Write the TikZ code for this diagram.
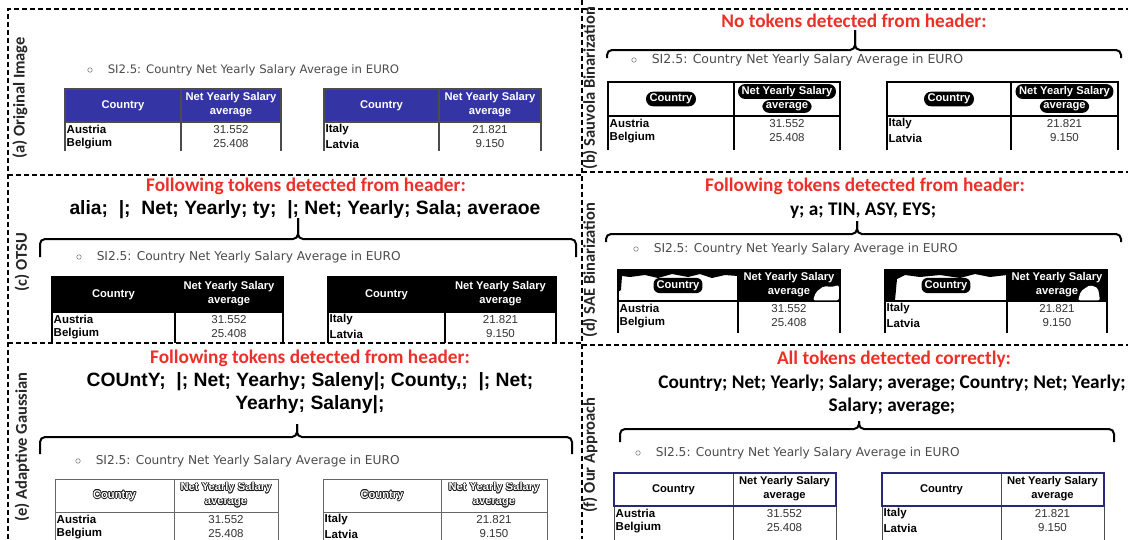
\documentclass[tikz,border=0pt]{standalone}
\usepackage{fontspec}
\setmainfont{Liberation Sans}
\newfontfamily\calfont{Carlito}
\newfontfamily\verfont{DejaVu Sans}
\usetikzlibrary{positioning}

\definecolor{tokred}{RGB}{236,48,40}
\definecolor{hdrblue}{RGB}{52,52,165}
\definecolor{capgray}{RGB}{75,75,75}

% text with a thin ring of copies behind it
\newsavebox{\halobox}
\newcommand{\halo}[3]{{\setbox\halobox\hbox{#3}%
  \foreach \a in {0,45,...,315}{%
    \pgfmathsetlengthmacro{\hx}{#1*cos(\a)}%
    \pgfmathsetlengthmacro{\hy}{#1*sin(\a)}%
    \rlap{\color{#2}\kern\hx\raise\hy\copy\halobox}}%
  \copy\halobox}}

% header text, one per panel
\newcommand{\hfmta}[1]{#1}
\newcommand{\hfmtb}[1]{#1}
\newcommand{\hfmtc}[1]{#1}
\newcommand{\hfmtd}[1]{#1}
\newcommand{\hfmte}[1]{\halo{0.75pt}{black!90}{#1}}
\newcommand{\hfmtf}[1]{#1}

% #1 name, #2 x left, #3 x divider, #4 x right, #5 y top, #6 y header, #7 panel, #8 rows, #9 y bottom
\newcommand{\saltable}[9]{%
  \path[hdrl#7] (#2,#5) rectangle (#3,#6);
  \path[hdrr#7] (#3,#5) rectangle (#4,#6);
  \draw[frame#7] (#2,#9) -- (#2,#5) -- (#4,#5) -- (#4,#9);
  \draw[frame#7] (#3,#5) -- (#3,#9);
  \draw[frame#7] (#2,#6) -- (#4,#6);
  \path[hbox#7] (#2,#5) rectangle (#4,#6);
  \node[hdrtext, txt#7] (#1c) at ({(#2+#3)/2},{(#5+#6)/2}) {\csname hfmt#7\endcsname{Country}};
  \node[hdrtext, txt#7] (#1n) at ({(#3+#4)/2},{(#5+#6)/2-7.5}) {\csname hfmt#7\endcsname{Net Yearly Salary}};
  \node[hdrtext, txt#7] (#1a) at ({(#3+#4)/2},{(#5+#6)/2+7.5}) {\csname hfmt#7\endcsname{average}};
  \foreach \nm/\vl [count=\i] in {#8}{%
    \node[rowname] (#1r\i) at ({#2+1.5},{#6+7.5+(\i-1)*14.5}) {\nm};
    \node[rowval] (#1v\i) at ({(#3+#4)/2},{#6+7.5+(\i-1)*14.5}) {\vl};
  }%
}

% #1 x left, #2 x right, #3 x tip, #4 y bar, #5 y ends, #6 y tip
\newcommand{\tokbrace}[6]{%
  \draw[brace] (#1,#5) -- (#1,#4) -- (#3,#4) -- (#3,#6);
  \draw[brace] (#2,#5) -- (#2,#4) -- (#3,#4) -- (#3,#6);
}

\begin{document}
\begin{tikzpicture}[x=1pt,y=-1pt,
    sep/.style={line width=1.3pt, dash pattern=on 5pt off 3pt},
    plabel/.style={rotate=90, inner sep=0pt, text=black!85, font=\calfont\bfseries\fontsize{16.5}{18}\selectfont},
    redhead/.style={inner sep=0pt, text=tokred, font=\calfont\bfseries\fontsize{19.3}{22}\selectfont},
    tokline/.style={inner sep=0pt, align=center, font=\bfseries\fontsize{19.3}{23}\selectfont},
    tokcal/.style={inner sep=0pt, align=center, font=\calfont\bfseries\fontsize{19.3}{23.5}\selectfont},
    brace/.style={line width=2pt, rounded corners=5pt},
    bullet/.style={circle, draw=black!50, line width=0.6pt, inner sep=0pt, minimum size=4.5pt},
    subtitle/.style={anchor=west, inner sep=0pt, text=capgray, font=\verfont\fontsize{#1}{14}\selectfont},
    subtitle/.default=12.2,
    hdrtext/.style={inner sep=0pt, font=\bfseries\fontsize{11.2}{13}\selectfont},
    rowname/.style={anchor=west, inner sep=0pt, font=\bfseries\fontsize{11.5}{13}\selectfont},
    rowval/.style={inner sep=0pt, text=black!80, font=\fontsize{11.5}{13}\selectfont},
    framea/.style={draw=black!70, line width=1.2pt},
    frameb/.style={draw=black, line width=1.4pt},
    framec/.style={draw=black, line width=1.2pt},
    framed/.style={draw=black, line width=1.2pt},
    framee/.style={draw=black!60, line width=1pt},
    framef/.style={draw=black!70, line width=1pt},
    hdrla/.style={fill=hdrblue}, hdrra/.style={fill=hdrblue},
    hdrlb/.style={}, hdrrb/.style={},
    hdrlc/.style={fill=black}, hdrrc/.style={fill=black},
    hdrld/.style={}, hdrrd/.style={fill=black},
    hdrle/.style={}, hdrre/.style={},
    hdrlf/.style={}, hdrrf/.style={},
    hboxa/.style={}, hboxc/.style={}, hboxd/.style={}, hboxe/.style={},
    hboxb/.style={draw=black, line width=2.4pt},
    hboxf/.style={draw=hdrblue!75!black, line width=1.8pt},
    txta/.style={text=white},
    txtb/.style={text=white, fill=black, rounded corners=7pt, inner xsep=3.5pt, inner ysep=2.2pt},
    txtc/.style={text=white},
    txtd/.style={text=white, fill=black, rounded corners=6pt, inner xsep=3pt, inner ysep=2.5pt},
    txte/.style={text=white},
    txtf/.style={text=black}]
\useasboundingbox (0,0) rectangle (1128,539);

% panel borders
\draw[sep] (8,539) -- (8,9) -- (1128,9);
\draw[sep] (582,0) -- (582,539);
\draw[sep] (8,175) -- (582,175);
\draw[sep] (8,343) -- (582,343);
\draw[sep] (582,172) -- (1128,172);
\draw[sep] (582,345) -- (1128,345);

% (a)
\node[plabel] (labA) at (20,98) {(a) Original Image};
\node[bullet] (abul) at (90,70) {};
\node[subtitle=11.7, right=15pt of abul] (atitle) {SI2.5: Country Net Yearly Salary Average in EURO};
\saltable{at1}{65}{181}{281}{89}{122}{a}{Austria/31.552,Belgium/25.408}{151}
\saltable{at2}{324}{439}{541}{89}{122}{a}{Italy/21.821,Latvia/9.150}{151}

% (b)
\node[plabel] (labB) at (590,88) {(b) Sauvola Binarization};
\node[redhead] (bhead) at (854,21) {No tokens detected from header:};
\tokbrace{607}{1121}{855}{50}{58}{30}
\node[bullet] (bbul) at (634,60) {};
\node[subtitle=12.5, right=15pt of bbul] (btitle) {SI2.5: Country Net Yearly Salary Average in EURO};
\saltable{bt1}{608}{734}{840}{82}{116}{b}{Austria/31.552,Belgium/25.408}{150}
\saltable{bt2}{887}{1011}{1118}{82}{116}{b}{Italy/21.821,Latvia/9.150}{150}

% (c)
\node[plabel] (labC) at (22,262) {(c) OTSU};
\node[redhead] (chead) at (306,186) {Following tokens detected from header:};
\node[tokline] (ctok) at (305,210) {alia;\ \ |;\ \ Net; Yearly; ty;\ \ |; Net; Yearly; Sala; averaoe};
\tokbrace{40}{576}{298}{239}{257}{218}
\node[bullet] (cbul) at (79,257) {};
\node[subtitle, right=15pt of cbul] (ctitle) {SI2.5: Country Net Yearly Salary Average in EURO};
\saltable{ct1}{52}{175}{283}{277}{312}{c}{Austria/31.552,Belgium/25.408}{343}
\saltable{ct2}{328}{445}{556}{277}{312}{c}{Italy/21.821,Latvia/9.150}{343}

% (d)
\node[plabel] (labD) at (590,270) {(d) SAE Binarization};
\node[redhead] (dhead) at (865,186) {Following tokens detected from header:};
\node[tokcal] (dtok) at (863,211) {y; a; TIN, ASY, EYS;};
\tokbrace{606}{1121}{857}{234}{242}{221}
\node[bullet] (dbul) at (636,249) {};
\node[subtitle, right=15pt of dbul] (dtitle) {SI2.5: Country Net Yearly Salary Average in EURO};
\saltable{dt1}{618}{738}{840}{270}{301}{d}{Austria/31.552,Belgium/25.408}{333}
\saltable{dt2}{885}{1007}{1107}{270}{301}{d}{Italy/21.821,Latvia/9.150}{333}
% what the binarization left of the header
\fill[black] (618,270) -- (738,270) -- (738,276) -- (725,275) -- (712,278) -- (700,274) -- (688,277) -- (672,274) -- (658,278) -- (645,275) -- (630,277) -- (622,276) -- (621,290) -- (618,292) -- cycle;
\fill[white, rounded corners=2pt] (813,300.3) -- (816,292) -- (824,286) -- (832,287) -- (838.8,285) -- (838.8,300.3) -- cycle;
\fill[black] (885,270) -- (1007,270) -- (1007,275) -- (990,277) -- (975,274) -- (960,278) -- (940,275) -- (920,277) -- (905,275) -- (897,279) -- (895,300.5) -- (885,300.5) -- cycle;
\fill[white, rounded corners=2pt] (1078,300.3) -- (1081,291) -- (1090,285) -- (1098,288) -- (1100,300.3) -- cycle;

% (e)
\node[plabel] (labE) at (22,447) {(e) Adaptive Gaussian};
\node[redhead] (ehead) at (310,358) {Following tokens detected from header:};
\node[tokline] (etok) at (310,393) {COUntY;\ \ |; Net; Yearhy; Saleny|; County,;\ \ |; Net;\\Yearhy; Salany|;};
\tokbrace{40}{572}{297}{437}{454}{424}
\node[bullet] (ebul) at (78,461) {};
\node[subtitle, right=15pt of ebul] (etitle) {SI2.5: Country Net Yearly Salary Average in EURO};
\saltable{et1}{55}{174}{278}{479}{512}{e}{Austria/31.552,Belgium/25.408}{545}
\saltable{et2}{323}{441}{547}{479}{512}{e}{Italy/21.821,Latvia/9.150}{545}

% (f)
\node[plabel] (labF) at (590,455) {(f) Our Approach};
\node[redhead] (fhead) at (894,359) {All tokens detected correctly:};
\node[tokcal] (ftok) at (892,395) {Country; Net; Yearly; Salary; average; Country; Net; Yearly;\\Salary; average;};
\tokbrace{620}{1114}{859}{429}{442}{421}
\node[bullet] (fbul) at (638,453) {};
\node[subtitle, right=15pt of fbul] (ftitle) {SI2.5: Country Net Yearly Salary Average in EURO};
\saltable{ft1}{614}{733}{836}{473}{506}{f}{Austria/31.552,Belgium/25.408}{540}
\saltable{ft2}{882}{1001}{1104}{473}{506}{f}{Italy/21.821,Latvia/9.150}{540}
\end{tikzpicture}
\end{document}
